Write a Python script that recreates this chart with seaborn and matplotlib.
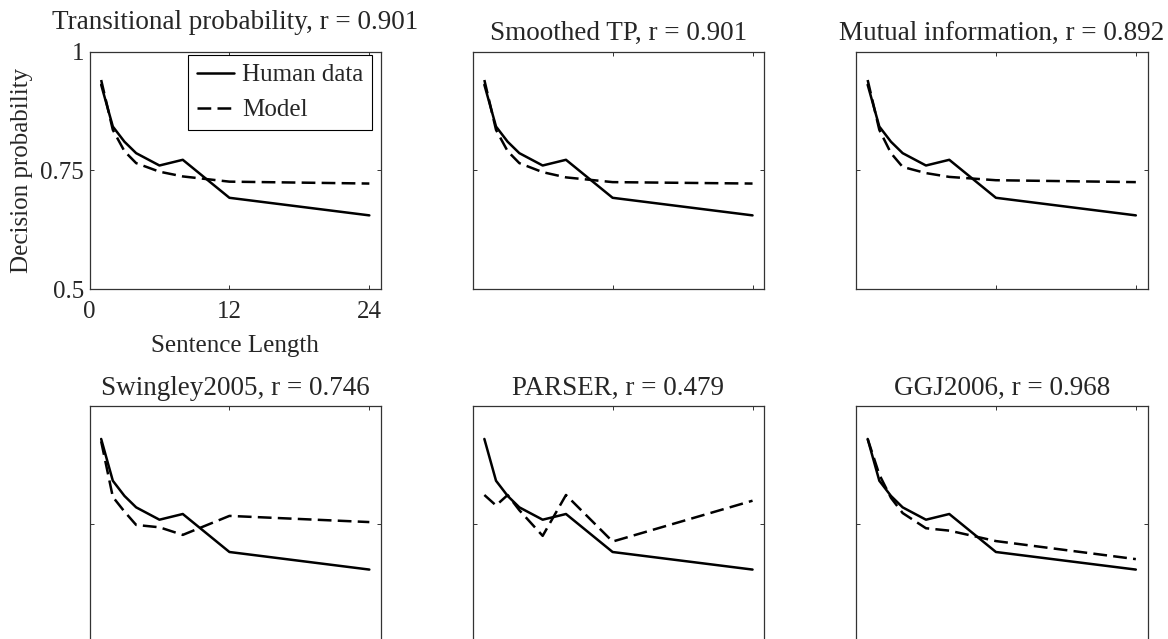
##Import Libraries
import numpy as np
import pandas as pd
import matplotlib
matplotlib.use("Agg")
import matplotlib.pyplot as plt
import seaborn as sns

sns.set_style("ticks")
plt.rcParams["font.family"] = ["Liberation Serif", "DejaVu Serif"]
plt.rcParams["xtick.direction"] = "in"
plt.rcParams["ytick.direction"] = "in"

##Data
sentence_length = [1, 2, 3, 4, 6, 8, 12, 24]
human_data = [0.93, 0.842, 0.81, 0.786, 0.76, 0.772, 0.692, 0.655]

model_names = [
    "Transitional probability, r = 0.901",
    "Smoothed TP, r = 0.901",
    "Mutual information, r = 0.892",
    "Swingley2005, r = 0.746",
    "PARSER, r = 0.479",
    "GGJ2006, r = 0.968",
]
tp_model = [0.94, 0.835, 0.79, 0.765, 0.747, 0.737, 0.726, 0.722]
smoothed_tp_model = [0.94, 0.835, 0.79, 0.765, 0.746, 0.735, 0.725, 0.722]
mi_model = [0.94, 0.835, 0.786, 0.757, 0.744, 0.736, 0.729, 0.725]
swingley_model = [0.925, 0.808, 0.777, 0.749, 0.744, 0.728, 0.768, 0.755]
parser_model = [0.812, 0.79, 0.812, 0.78, 0.726, 0.812, 0.714, 0.80]
ggj_model = [0.93, 0.855, 0.806, 0.774, 0.742, 0.737, 0.715, 0.677]
model_values = [tp_model, smoothed_tp_model, mi_model,
                swingley_model, parser_model, ggj_model]

x_ticks = [0, 12, 24]
y_ticks = [0.5, 0.75, 1]
y_tick_labels = ["0.5", "0.75", "1"]

##Figure layout (pixel boxes of the original panels)
W, H = 1168, 639
fig = plt.figure(figsize=(W / 100, H / 100), dpi=100)
lefts = [89.5, 472.7, 856]
bottoms = [289, 643.2]
ax_w, ax_h = 291.5, 237.5

for i, (name, model) in enumerate(zip(model_names, model_values)):
    row, col = divmod(i, 3)
    ax = fig.add_axes([lefts[col] / W, (H - bottoms[row]) / H, ax_w / W, ax_h / H])
    first = i == 0
    sns.lineplot(x=sentence_length, y=human_data, ax=ax, color="black", lw=1.8,
                 label="Human data" if first else None, legend=first)
    sns.lineplot(x=sentence_length, y=model, ax=ax, color="black", lw=1.8,
                 linestyle=(0, (5.5, 2.5)), label="Model" if first else None, legend=first)

    ax.set_xlim(0, 25)
    ax.set_ylim(0.5, 1)
    ax.set_xticks(x_ticks)
    ax.set_yticks(y_ticks)
    ax.tick_params(top=True, right=True, length=3, width=0.7, color="#333333",
                   labelsize=18)
    ax.tick_params(axis="x", pad=9)
    ax.tick_params(axis="y", pad=4)
    for sp in ax.spines.values():
        sp.set_visible(True)
        sp.set_linewidth(0.9)
        sp.set_color("#333333")

    if first:
        ax.set_xticklabels([str(t) for t in x_ticks])
        ax.set_yticklabels(y_tick_labels)
        ax.set_xlabel("Sentence Length", fontsize=18, labelpad=8)
        ax.set_ylabel("Decision probability", fontsize=18, labelpad=5)
        ax.set_title(name, fontsize=19.5, pad=16)
        leg = ax.legend(loc="upper right", bbox_to_anchor=(0.969, 0.985),
                        borderaxespad=0, fancybox=False, edgecolor="black",
                        framealpha=1, fontsize=18, handlelength=1.5,
                        handletextpad=0.3, borderpad=0.35, labelspacing=0.5)
        leg.get_frame().set_linewidth(0.8)
    else:
        ax.set_xticklabels([])
        ax.set_yticklabels([])
        ax.set_xlabel("")
        ax.set_ylabel("")
        ax.set_title(name, fontsize=19.5, pad=8)

fig.savefig("out.png", dpi=100)
